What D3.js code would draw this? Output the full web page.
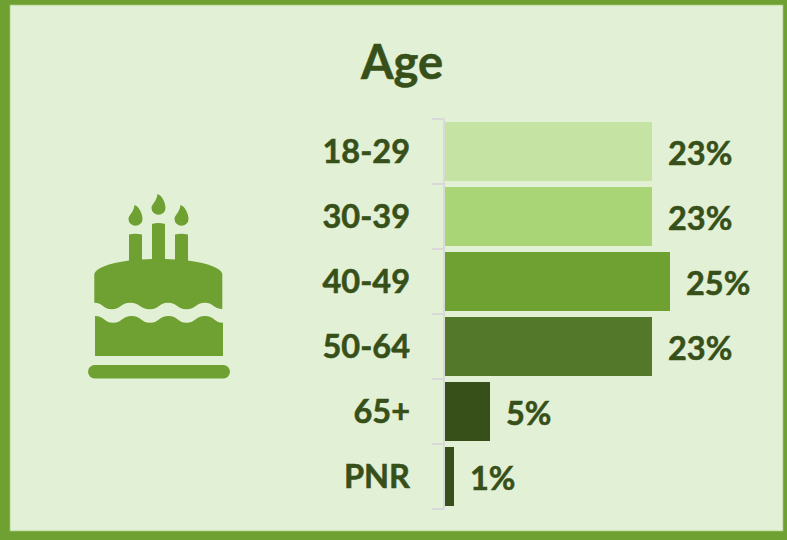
<!DOCTYPE html>
<html><head><meta charset="utf-8">
<script src="https://cdnjs.cloudflare.com/ajax/libs/d3/7.8.5/d3.min.js"></script>
<style>html,body{margin:0;padding:0;background:#e2f0d5}svg{display:block}text{font-family:Lato,"Open Sans",sans-serif;font-weight:700;stroke:#375019;stroke-width:.55px}</style>
</head><body><svg id="c" width="787" height="540"></svg>
<script>
const title = "Age";
const categories = ["18-29","30-39","40-49","50-64","65+","PNR"];
const values = [23,23,25,23,5,1];
const colors = ["#c5e3a3","#a9d576","#6ea131","#53782a","#375019","#375019"];
const svg = d3.select("#c");
const ink = "#375019", brand = "#6ea131";
svg.append("rect").attr("width",787).attr("height",540).attr("fill","#6ea131");
svg.append("rect").attr("x",10).attr("y",5).attr("width",773).attr("height",526).attr("fill","#e2f0d5").attr("stroke","#a5cc7c").attr("stroke-width",0.7);
svg.append("text").attr("x",402).attr("y",79).attr("text-anchor","middle").attr("font-size",47).attr("fill",ink).text(title);

const x = d3.scaleLinear().domain([0,25]).range([445,670]);
const y = d3.scaleBand().domain(categories).range([119,509]).paddingInner(6/65).paddingOuter(3/65);
const axisBand = d3.scaleBand().domain(categories).range([119,509]);

const axisG = svg.append("g");
axisG.append("line").attr("x1",444).attr("x2",444).attr("y1",119).attr("y2",509).attr("stroke","#d9d9d9").attr("stroke-width",2);
axisG.selectAll("line.t").data(categories.concat(["end"])).join("line").attr("class","t")
  .attr("x1",432).attr("x2",444)
  .attr("y1",(d,i)=>119+i*axisBand.step()).attr("y2",(d,i)=>119+i*axisBand.step())
  .attr("stroke","#d9d9d9").attr("stroke-width",2);

svg.selectAll("rect.bar").data(values).join("rect").attr("class","bar")
  .attr("x",x(0)).attr("y",(d,i)=>y(categories[i]))
  .attr("width",d=>x(d)-x(0)).attr("height",y.bandwidth())
  .attr("fill",(d,i)=>colors[i]);

svg.selectAll("text.cat").data(categories).join("text").attr("class","cat")
  .attr("x",410).attr("y",d=>y(d)+y.bandwidth()/2+11).attr("text-anchor","end")
  .attr("font-size",32.5).attr("fill",ink).text(d=>d);

svg.selectAll("text.val").data(values).join("text").attr("class","val")
  .attr("x",d=>x(d)+16).attr("y",(d,i)=>y(categories[i])+y.bandwidth()/2+13)
  .attr("font-size",32.5).attr("fill",ink).text(d=>d+"%");

// birthday cake pictogram
const wave = (pts) => pts.slice(1).map((p,i)=>{
  const q = pts[i], m = (p[0]-q[0])*0.5;
  return `C${q[0]+m} ${q[1]} ${p[0]-m} ${p[1]} ${p[0]} ${p[1]}`;
}).join("");
const icon = svg.append("g").attr("fill",brand);
icon.append("rect").attr("x",88).attr("y",365).attr("width",142).attr("height",13.5).attr("rx",6.7);
const lower = [[95,316],[113,322.7],[131.7,316],[150,322.7],[168.5,316],[186.5,322.7],[205,316],[223,322.7]];
icon.append("path").attr("d",`M95 316${wave(lower)}V356H95Z`);
const upper = [[222.3,309],[205,302.7],[186.5,309.3],[168,302.7],[150,309.3],[130,302.7],[111.7,309.3],[94.3,302.7]];
icon.append("path").attr("d",`M94.3 274Q97 265 129 260.5V234.5Q135.5 233 142 234.5V259.5L152 259V224Q158.5 222 165 224V259L175 259.5V234.5Q181.5 233 188 234.5V260.5Q220 265 222.3 274V309${wave(upper)}Z`);
[[135.5,205],[158.5,194],[181.5,205]].forEach(([cx,t])=>{
  icon.append("path").attr("d",`M${cx-1} ${t}C${cx+3} ${t+1} ${cx+7} ${t+8} ${cx+7} ${t+14}A7 6.8 0 0 1 ${cx-7} ${t+14}C${cx-7} ${t+10} ${cx-2} ${t+8} ${cx-1} ${t}Z`);
});
</script></body></html>
